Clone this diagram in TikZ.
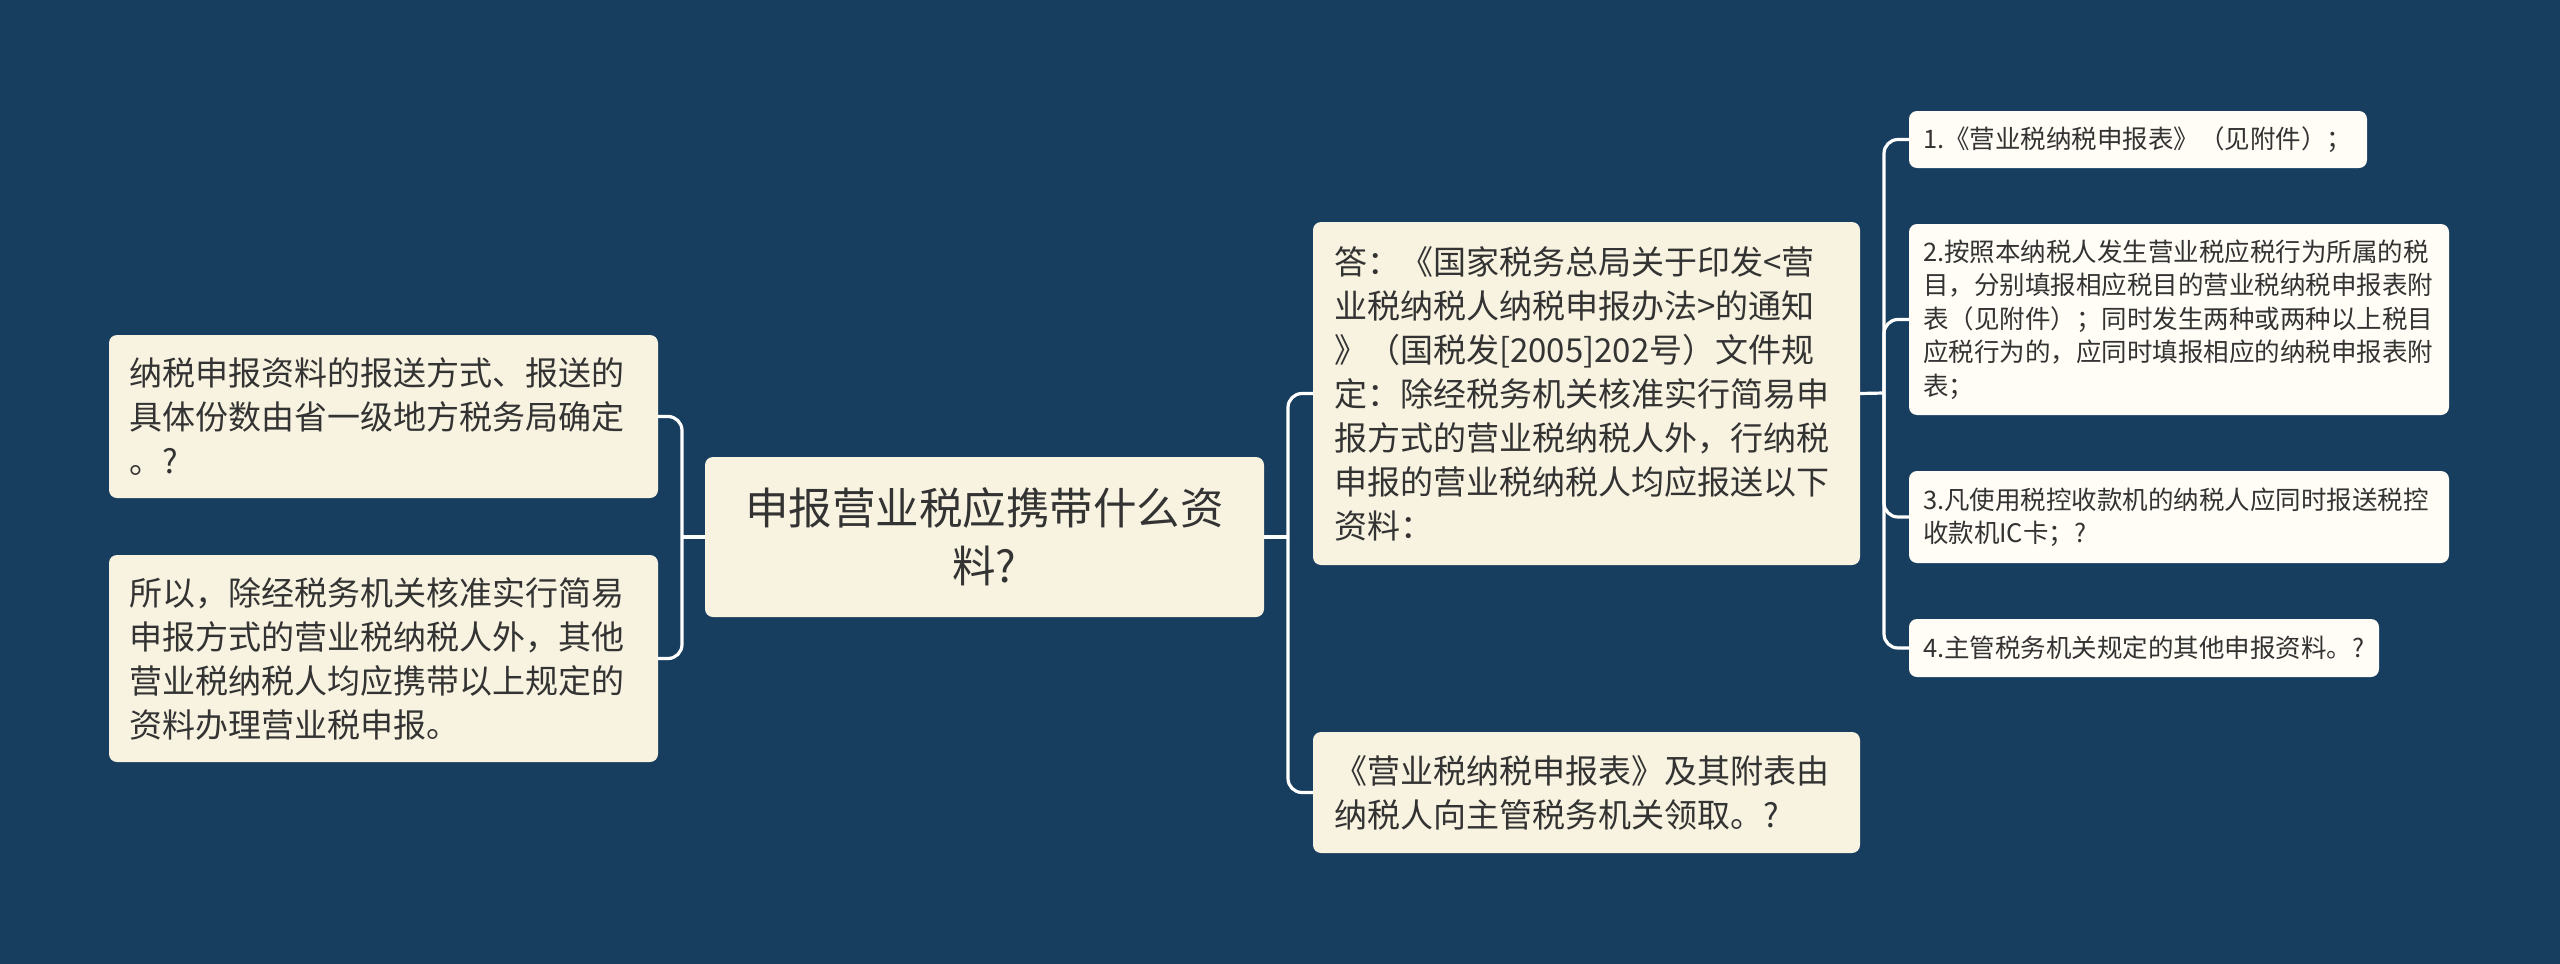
\documentclass[tikz,border=0pt]{standalone}
\usepackage{fontspec}
\setmainfont{Noto Sans CJK SC}
\newfontfamily\cjk{Noto Sans CJK SC}
\definecolor{bgc}{HTML}{173D5F}
\definecolor{boxc}{HTML}{F8F3E0}
\definecolor{rboxc}{HTML}{FFFDF5}
\definecolor{txtc}{HTML}{333333}
\begin{document}
\begin{tikzpicture}[x=1pt,y=-1pt,
  box/.style={draw=none, fill=boxc, rounded corners=8pt, anchor=north west, outer sep=0pt,
    inner ysep=0pt, align=left, text=txtc},
  midbox/.style={box, inner xsep=20pt, font=\cjk\fontsize{33}{44}\selectfont},
  rbox/.style={box, fill=rboxc, inner xsep=14pt, font=\cjk\fontsize{25.5}{33.5}\selectfont},
  conn/.style={draw=white, line width=3.2pt, rounded corners=14pt}]
\fill[bgc] (0,0) rectangle (2560,964);
\useasboundingbox (0,0) rectangle (2560,964);

% center
\node[box, align=center, inner xsep=10pt, minimum width=559pt, minimum height=160pt, text width=539pt,
  font=\cjk\fontsize{43.5}{58}\selectfont] (c) at (705,457)
  {申报营业税应携带什么资\\料?};

% left
\node[midbox, minimum width=549pt, minimum height=163pt, text width=509pt] (l1) at (109,335)
  {纳税申报资料的报送方式、报送的\\具体份数由省一级地方税务局确定\\。?};
\node[midbox, minimum width=549pt, minimum height=207pt, text width=509pt] (l2) at (109,555)
  {所以，除经税务机关核准实行简易\\申报方式的营业税纳税人外，其他\\营业税纳税人均应携带以上规定的\\资料办理营业税申报。};

% middle
\node[midbox, inner xsep=21pt, minimum width=547pt, minimum height=343pt, text width=505pt] (m1) at (1313,222)
  {答：《国家税务总局关于印发<营\\业税纳税人纳税申报办法>的通知\\》（国税发[2005]202号）文件规\\定：除经税务机关核准实行简易申\\报方式的营业税纳税人外，行纳税\\申报的营业税纳税人均应报送以下\\资料：};
\node[midbox, inner xsep=21pt, minimum width=547pt, minimum height=121pt, text width=505pt] (m2) at (1313,732)
  {《营业税纳税申报表》及其附表由\\纳税人向主管税务机关领取。?};

% right
\node[rbox, minimum width=458pt, minimum height=57pt, text width=430pt] (r1) at (1909,111)
  {1.《营业税纳税申报表》（见附件）；};
\node[rbox, minimum width=540pt, minimum height=191pt, text width=512pt] (r2) at (1909,224)
  {2.按照本纳税人发生营业税应税行为所属的税\\目，分别填报相应税目的营业税纳税申报表附\\表（见附件）；同时发生两种或两种以上税目\\应税行为的，应同时填报相应的纳税申报表附\\表；};
\node[rbox, minimum width=540pt, minimum height=92pt, text width=512pt] (r3) at (1909,471)
  {3.凡使用税控收款机的纳税人应同时报送税控\\收款机IC卡；?};
\node[rbox, minimum width=470pt, minimum height=58pt, text width=442pt] (r4) at (1909,619)
  {4.主管税务机关规定的其他申报资料。?};

% spines
\coordinate (sL) at (682,537);
\coordinate (sM) at (1288,537);
\coordinate (sR) at (1884,393);

\begin{scope}[on background layer/.style={}]
\draw[conn] (c.west) -- (sL);
\draw[conn] (sL) |- (l1.east);
\draw[conn] (sL) |- (l2.east);
\draw[conn] (c.east) -- (sM);
\draw[conn] (sM) |- (m1.west);
\draw[conn] (sM) |- (m2.west);
\draw[conn] (m1.east) -- (sR);
\draw[conn] (sR) |- (r1.west);
\draw[conn] (sR) |- (r2.west);
\draw[conn] (sR) |- (r3.west);
\draw[conn] (sR) |- (r4.west);
\end{scope}
\end{tikzpicture}
\end{document}
